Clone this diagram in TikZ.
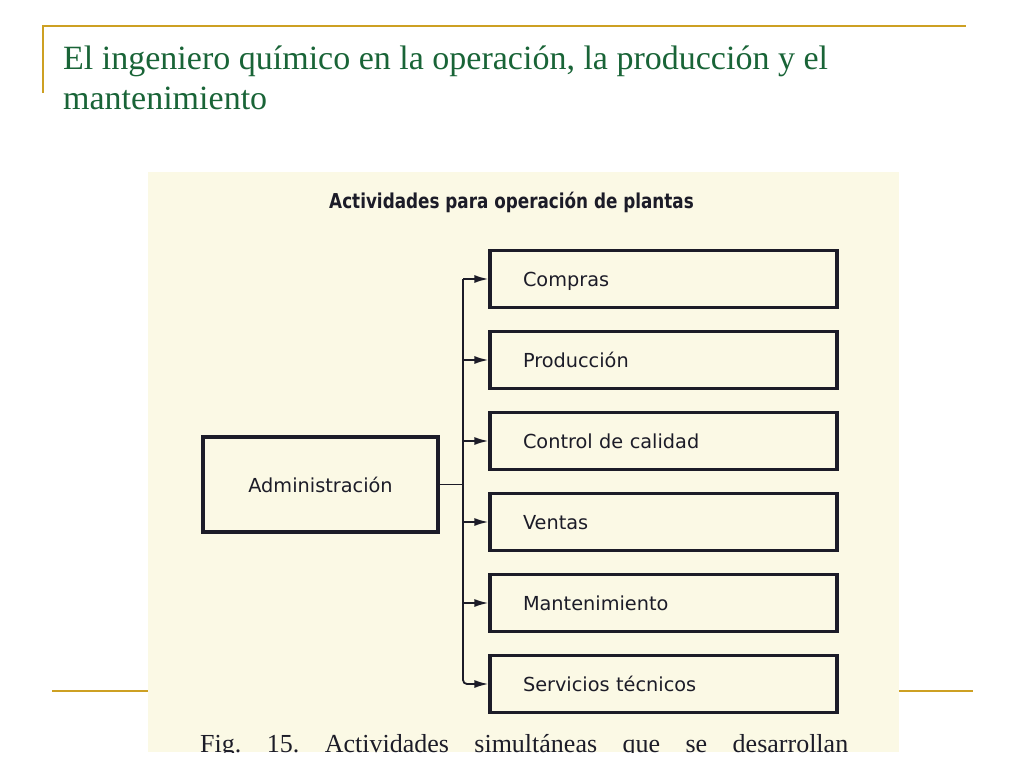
\documentclass[tikz,border=0pt]{standalone}
\usepackage{fontspec}
\setmainfont{Liberation Serif}
\newfontfamily\boxfont{DejaVu Sans}
\usetikzlibrary{arrows.meta}
\definecolor{slidegreen}{RGB}{25,100,55}
\definecolor{slidegold}{RGB}{205,160,35}
\definecolor{paper}{RGB}{251,249,229}
\definecolor{ink}{RGB}{28,28,40}

\begin{document}
\begin{tikzpicture}[x=1pt,y=-1pt,node distance=81pt,
	activity/.style={rectangle,draw=ink,line width=3.2pt,minimum height=57pt,text width=281pt,inner xsep=33pt,align=left,text height=14pt,text depth=0pt,font=\boxfont\fontsize{19.3}{21}\selectfont,text=ink},
	conn/.style={ink,line width=1.8pt},
	arr/.style={conn,-{Latex[length=14pt,width=8pt]}}]
	\useasboundingbox (0,0) rectangle (1024,768);

	% slide frame
	\draw[slidegold,line width=2.5pt] (42,26) -- (966,26);
	\draw[slidegold,line width=2.5pt] (43,26) -- (43,93);
	\draw[slidegold,line width=2.5pt] (52,691) -- (973,691);
	\node[anchor=base west,inner sep=0pt,text=slidegreen,font=\fontsize{34}{39}\selectfont] (slideTitle) at (63,70) {El ingeniero químico en la operación, la producción y el};
	\node[anchor=base west,inner sep=0pt,text=slidegreen,font=\fontsize{34}{39}\selectfont] (slideTitleB) at (63,109) {mantenimiento};

	% scanned page
	\fill[paper] (148,172) rectangle (899,752);
	\node[anchor=base,inner sep=0pt,text=ink,font=\boxfont\bfseries\fontsize{20.5}{22}\selectfont] (figTitle) at (511.5,208) {\scalebox{0.82}[1]{Actividades para operación de plantas}};

	\node[activity] (compras) at (663.5,279) {Compras};
		\node[activity, below of=compras] (produccion) {Producción};
		\node[activity, below of=produccion] (control) {Control de calidad};
		\node[activity, below of=control] (ventas) {Ventas};
		\node[activity, below of=ventas] (mantenimiento) {Mantenimiento};
		\node[activity, below of=mantenimiento] (servicios) {Servicios técnicos};

	\node[rectangle,draw=ink,line width=3.2pt,minimum width=235pt,minimum height=95pt,font=\boxfont\fontsize{19.3}{21}\selectfont,text=ink] (admin) at (320.5,484.5) {Administración};

	\coordinate (trunk) at (463,0);
	\draw[conn] (admin.east) -- (admin.east -| trunk);
	\draw[arr] (compras.west -| trunk) -- (compras.west);
	\draw[arr,rounded corners=4pt] (compras.west -| trunk) -- (servicios.west -| trunk) -- (servicios.west);
	\foreach \act in {produccion,control,ventas,mantenimiento}
		\draw[arr] (\act.west -| trunk) -- (\act.west);

	\begin{scope}
		\clip (148,172) rectangle (899,752);
		\node[anchor=base west,inner sep=0pt,text=ink,font=\fontsize{26}{28}\selectfont] (caption) at (200,752) {\frenchspacing\makebox[648pt][s]{Fig. 15. Actividades simultáneas que se desarrollan}};
	\end{scope}
\end{tikzpicture}
\end{document}
